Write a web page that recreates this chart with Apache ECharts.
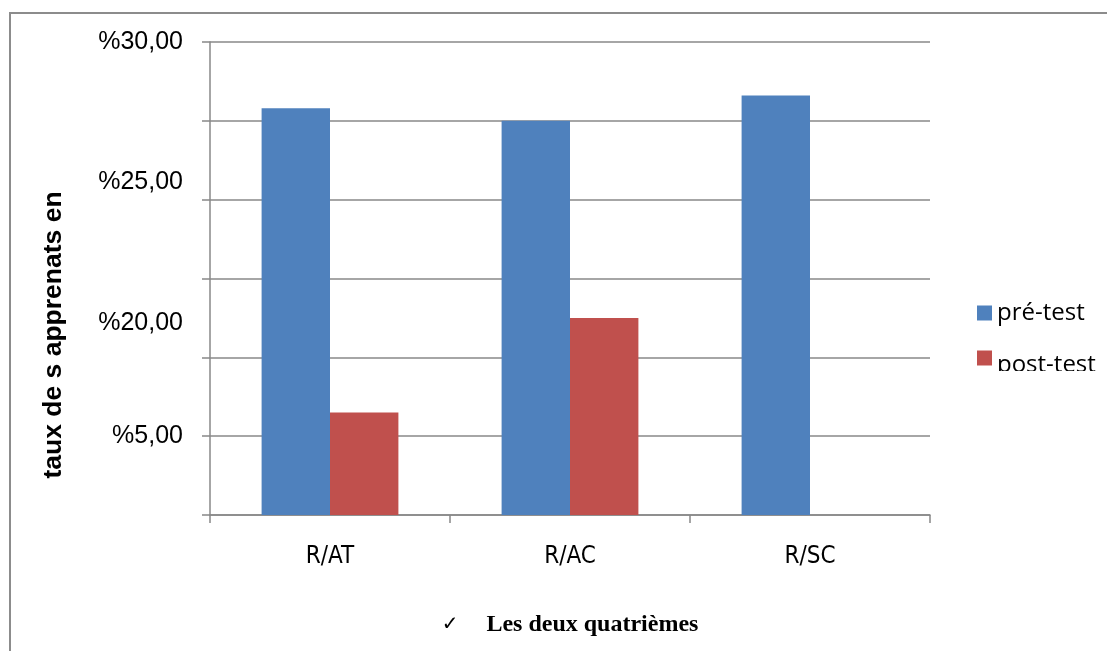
<!DOCTYPE html>
<html>
<head>
<meta charset="utf-8">
<title>taux des apprenants</title>
<script src="https://cdn.jsdelivr.net/npm/echarts@6/dist/echarts.min.js"></script>
<style>
  html, body { margin: 0; padding: 0; background: #ffffff; }
  #frame {
    position: absolute; left: 9px; top: 12px; width: 1200px; height: 700px;
    border-left: 2px solid #8c8c8c; border-top: 2px solid #8c8c8c;
    box-sizing: border-box; pointer-events: none;
  }
  #chart { position: absolute; left: 0; top: 0; width: 1107px; height: 651px; }
</style>
</head>
<body>
<div id="chart"></div>
<div id="frame"></div>
<script>
// categories and values (percent)
const categories = ['R/AT', 'R/AC', 'R/SC'];
const preTest = [25.8, 25.0, 26.6];
const postTest = [6.5, 12.5, null];

// tick positions on the value axis and the text printed at them
const yTickValues = [30, 21.1, 12.2, 5];
const yTickLabels = ['%30,00', '%25,00', '%20,00', '%5,00'];

const seriesNames = ['pré-test', 'post-test'];
const gridColor = '#888888';

const chart = echarts.init(document.getElementById('chart'), null, { renderer: 'canvas' });

chart.setOption({
  animation: false,
  backgroundColor: '#ffffff',
  grid: { left: 210, right: 177, top: 42, bottom: 136 },
  legend: {
    orient: 'vertical',
    left: 972,
    top: 296,
    itemWidth: 15,
    itemHeight: 15,
    itemGap: 14,
    icon: 'rect',
    data: seriesNames,
    formatter: function (name) {
      return name === seriesNames[1] ? '{low|' + name + '}' : '{n|' + name + '}';
    },
    textStyle: {
      fontFamily: 'Open Sans', fontSize: 24, color: '#000',
      rich: {
        n: { fontFamily: 'Open Sans', fontSize: 24, color: '#000', lineHeight: 24 },
        low: { fontFamily: 'Open Sans', fontSize: 24, color: '#000', lineHeight: 24, padding: [14, 0, 0, 0] }
      }
    }
  },
  xAxis: {
    type: 'category',
    data: categories,
    axisLine: { lineStyle: { color: gridColor, width: 1.5 } },
    axisTick: { show: true, length: 8, lineStyle: { color: gridColor, width: 1.5 } },
    axisLabel: {
      margin: 30,
      color: '#000',
      fontFamily: '"DejaVu Sans Condensed", "DejaVu Sans"',
      fontSize: 24
    },
    name: '{c|✓}{t|Les deux quatrièmes}',
    nameLocation: 'middle',
    nameGap: 98,
    nameTextStyle: {
      rich: {
        c: { fontFamily: 'DejaVu Sans', fontSize: 20, color: '#000', padding: [0, 28, 0, 0] },
        t: { fontFamily: '"Liberation Serif"', fontWeight: 'bold', fontSize: 24, color: '#000' }
      }
    }
  },
  yAxis: {
    type: 'value',
    min: 0,
    max: 30,
    interval: 5,
    axisLine: { show: true, lineStyle: { color: gridColor, width: 1.5 } },
    axisTick: { show: true, length: 8, lineStyle: { color: gridColor, width: 1.5 } },
    splitLine: { show: true, lineStyle: { color: gridColor, width: 1.5 } },
    axisLabel: {
      customValues: yTickValues,
      margin: 27,
      color: '#000',
      fontFamily: '"Liberation Sans", Arial',
      fontSize: 25,
      formatter: function (v) {
        const i = yTickValues.indexOf(v);
        return i >= 0 ? yTickLabels[i] : '';
      }
    }
  },
  graphic: [
    {
      type: 'text',
      x: 54,
      y: 335,
      rotation: Math.PI / 2,
      style: {
        text: 'taux de s apprenats en',
        fontFamily: '"Liberation Sans", Arial',
        fontWeight: 'bold',
        fontSize: 26.5,
        fill: '#000',
        align: 'center',
        verticalAlign: 'middle'
      }
    },
    {
      // the legend box cuts off the lower part of its last entry
      type: 'rect',
      z: 100,
      shape: { x: 960, y: 371, width: 147, height: 40 },
      style: { fill: '#ffffff' }
    }
  ],
  series: [
    {
      name: seriesNames[0],
      type: 'bar',
      data: preTest,
      barGap: 0,
      barCategoryGap: '43%',
      itemStyle: { color: '#4F81BD' }
    },
    {
      name: seriesNames[1],
      type: 'bar',
      data: postTest,
      barGap: 0,
      barCategoryGap: '43%',
      itemStyle: { color: '#C0504D' }
    }
  ]
});
</script>
</body>
</html>
